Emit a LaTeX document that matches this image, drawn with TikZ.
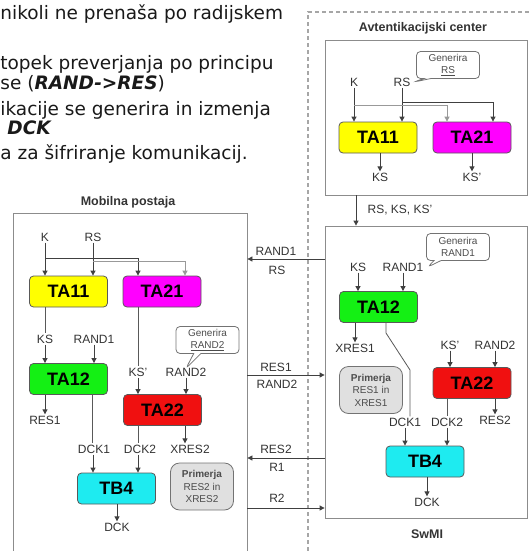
\documentclass[tikz,border=0pt]{standalone}
\usepackage{fontspec}
\setmainfont{Liberation Sans}
\newfontfamily\slidefont{DejaVu Sans}
\usetikzlibrary{arrows.meta,shapes.callouts}
\definecolor{rumena}{RGB}{255,255,0}
\definecolor{vijolicna}{RGB}{255,0,255}
\definecolor{zelena}{RGB}{20,240,20}
\definecolor{rdeca}{RGB}{240,16,16}
\definecolor{modra}{RGB}{30,235,240}

\begin{document}
\begin{tikzpicture}[x=1pt,y=-1pt,line width=0.8pt,
	blok/.style={draw=black!65,rounded corners=4pt,minimum width=78pt,minimum height=31pt,inner sep=0pt,font=\fontsize{18}{18}\selectfont\bfseries},
	oznaka/.style={inner sep=1pt,text=black!80,font=\fontsize{12}{12}\selectfont},
	okvir/.style={draw=black!45,inner sep=0pt},
	naslov/.style={text=black!80,font=\fontsize{12.5}{12.5}\selectfont\bfseries},
	puscica/.style={-{Triangle[length=5pt,width=5pt]},black!75},
	crta/.style={black!65},
	oblak/.style={rectangle callout,draw=black!55,rounded corners=4pt,minimum width=63pt,minimum height=27pt,inner sep=1pt,align=center,text=black!70,font=\fontsize{10}{11.5}\selectfont},
	primerja/.style={draw=black!55,fill=black!12,rounded corners=9pt,minimum width=63pt,minimum height=47pt,inner sep=1pt,align=center,text=black!70,font=\fontsize{10}{12.5}\selectfont},
	besedilo/.style={anchor=base west,inner sep=0pt,text=black!90,font=\slidefont\fontsize{18.5}{20}\selectfont}]
	\useasboundingbox (0,0) rectangle (532,551);
	\clip (0,0) rectangle (532,551);
	% odrezano besedilo s prosojnice
	\node[besedilo] (v1) at (0,20) {nikoli ne prenaša po radijskem};
	\node[besedilo] (v2) at (0,70) {topek preverjanja po principu};
	\node[besedilo] (v3) at (0,89.5) {se (\textbf{\textit{RAND->RES}})};
	\node[besedilo] (v4) at (0,115) {ikacije se generira in izmenja};
	\node[besedilo] (v5) at (7,134) {\textbf{\textit{DCK}}};
	\node[besedilo] (v6) at (0,159) {a za šifriranje komunikacij.};

	\draw[black!35,line width=1.6pt,dash pattern=on 4pt off 3pt] (308,551) -- (308,12) -- (532,12);

	\node[okvir,minimum width=202pt,minimum height=155pt] (avt) at (426,117.5) {};
	\node[naslov] (avtnaslov) at (423,28) {Avtentikacijski center};
	\node[okvir,minimum width=202pt,minimum height=292pt] (swmi) at (426,372) {};
	\node[naslov] (swminaslov) at (427,534) {SwMI};
	\node[okvir,minimum width=234pt,minimum height=400pt] (mob) at (130,413) {};
	\node[naslov] (mobnaslov) at (128,202) {Mobilna postaja};

	% avtentikacijski center
	\node[oznaka] (aK) at (354,82) {K};
	\node[oznaka] (aRS) at (402,82) {RS};
	\node[blok,fill=rumena] (aTA11) at (378,137.5) {TA11};
	\node[blok,fill=vijolicna] (aTA21) at (472,137.5) {TA21};
	\node[oznaka] (aKS) at (380,177) {KS};
	\node[oznaka] (aKSc) at (472,177) {KS’};
	\node[oblak,callout absolute pointer={([xshift=2pt]aRS.east)}] (aGen) at (448,65) {Generira\\\underline{RS}};
	\draw[puscica] (aK) -- (aK |- aTA11.north);
	\draw[puscica] (aRS) -- (aRS |- aTA11.north);
	\draw[puscica,black!40] (aK |- 0,105) -| ([xshift=-25pt]aTA21.north);
	\draw[puscica] (aRS |- 0,102) -| ([xshift=21pt]aTA21.north);
	\draw[puscica] (aTA11.south -| aKS) -- (aKS);
	\draw[puscica] (aTA21.south -| aKSc) -- (aKSc);
	\draw[puscica] (avt.south -| 356,0) -- (swmi.north -| 356,0);
	\node[oznaka] (aPrenos) at (400,210) {RS, KS, KS’};

	% SwMI
	\node[oznaka] (sKS) at (358,267) {KS};
	\node[oznaka] (sRAND1) at (403,267) {RAND1};
	\node[oblak,callout absolute pointer={([xshift=3pt]sRAND1.east)}] (sGen) at (458,247) {Generira\\RAND1};
	\node[blok,fill=zelena] (sTA12) at (378.5,307) {TA12};
	\node[oznaka] (sXRES1) at (355,348) {XRES1};
	\node[primerja] (sPrim) at (371,390) {\textbf{Primerja}\\RES1 in\\XRES1};
	\node[oznaka] (sKSc) at (450,345) {KS’};
	\node[oznaka] (sRAND2) at (495,345) {RAND2};
	\node[blok,fill=rdeca] (sTA22) at (472,383) {TA22};
	\node[oznaka] (sDCK1) at (405,422) {DCK1};
	\node[oznaka] (sDCK2) at (447,422) {DCK2};
	\node[oznaka] (sRES2) at (495,420) {RES2};
	\node[blok,fill=modra] (sTB4) at (425,461.5) {TB4};
	\node[oznaka] (sDCK) at (427,502) {DCK};
	\draw[puscica] (sKS) -- (sKS |- sTA12.north);
	\draw[puscica] (sRAND1) -- (sRAND1 |- sTA12.north);
	\draw[puscica] (sTA12.south -| sXRES1) -- (sXRES1);
	\draw[crta] (sTA12.south -| 386,0) -- (386,333) -- (410,370) -- (sDCK1.north -| 410,0);
	\draw[puscica] (sDCK1) -- (sDCK1 |- sTB4.north);
	\draw[puscica] (sKSc) -- (sKSc |- sTA22.north);
	\draw[puscica] (sRAND2) -- (sRAND2 |- sTA22.north);
	\draw[crta] (sTA22.south -| sDCK2) -- (sDCK2);
	\draw[puscica] (sTA22.south -| sRES2) -- (sRES2);
	\draw[puscica] (sDCK2) -- (sDCK2 |- sTB4.north);
	\draw[puscica] (sTB4.south -| sDCK) -- (sDCK);

	% mobilna postaja
	\node[oznaka] (mK) at (45,237) {K};
	\node[oznaka] (mRS) at (93,237) {RS};
	\node[blok,fill=rumena] (mTA11) at (68.5,291.5) {TA11};
	\node[blok,fill=vijolicna] (mTA21) at (162,291.5) {TA21};
	\node[oznaka] (mKS) at (45,339) {KS};
	\node[oznaka] (mRAND1) at (94,339) {RAND1};
	\node[blok,fill=zelena] (mTA12) at (68.5,379) {TA12};
	\node[oznaka] (mRES1) at (45,420) {RES1};
	\node[oznaka] (mKSc) at (138,372) {KS’};
	\node[oznaka] (mRAND2) at (186,372) {RAND2};
	\node[oblak,callout absolute pointer={([yshift=-2pt]mRAND2.north)}] (mGen) at (207.5,340) {Generira\\\underline{RAND2}};
	\node[blok,fill=rdeca] (mTA22) at (162.5,410) {TA22};
	\node[oznaka] (mDCK1) at (94,449) {DCK1};
	\node[oznaka] (mDCK2) at (140,449) {DCK2};
	\node[oznaka] (mXRES2) at (190,449) {XRES2};
	\node[blok,fill=modra] (mTB4) at (116.5,488.5) {TB4};
	\node[oznaka] (mDCK) at (117,527) {DCK};
	\node[primerja] (mPrim) at (202,486.5) {\textbf{Primerja}\\RES2 in\\XRES2};
	\draw[puscica] (mK) -- (mK |- mTA11.north);
	\draw[puscica] (mRS) -- (mRS |- mTA11.north);
	\draw[puscica] (mK |- 0,258) -| ([xshift=-24pt]mTA21.north);
	\draw[puscica,black!40] (mRS |- 0,261) -| ([xshift=23pt]mTA21.north);
	\draw[crta] (mTA11.south -| mKS) -- (mKS);
	\draw[puscica] (mKS) -- (mKS |- mTA12.north);
	\draw[puscica] (mRAND1) -- (mRAND1 |- mTA12.north);
	\draw[puscica] (mTA12.south -| mRES1) -- (mRES1);
	\draw[crta] (mTA12.south -| 92,0) -- (mDCK1.north -| 92,0);
	\draw[crta] (mTA21.south -| mKSc) -- (mKSc);
	\draw[puscica] (mKSc) -- (mKSc |- mTA22.north);
	\draw[puscica] (mRAND2) -- (mRAND2 |- mTA22.north);
	\draw[crta] (mTA22.south -| 138,0) -- (mDCK2.north -| 138,0);
	\draw[puscica] (mTA22.south -| 185,0) -- (mXRES2.north -| 185,0);
	\draw[puscica] (mDCK1.south -| 93,0) -- (mTB4.north -| 93,0);
	\draw[puscica] (mDCK2.south -| 138,0) -- (mTB4.north -| 138,0);
	\draw[puscica] (mTB4.south -| mDCK) -- (mDCK);

	% izmenjava med postajo in SwMI
	\draw[puscica] (swmi.west |- 0,259) -- (mob.east |- 0,259);
	\node[oznaka] (pRAND1) at (276,251) {RAND1};
	\node[oznaka] (pRS) at (277,270) {RS};
	\draw[puscica] (mob.east |- 0,375) -- (swmi.west |- 0,375);
	\node[oznaka] (pRES1) at (276,367) {RES1};
	\node[oznaka] (pRAND2) at (277,384) {RAND2};
	\draw[puscica] (swmi.west |- 0,458) -- (mob.east |- 0,458);
	\node[oznaka] (pRES2) at (276,449) {RES2};
	\node[oznaka] (pR1) at (277,467) {R1};
	\draw[puscica] (mob.east |- 0,508) -- (swmi.west |- 0,508);
	\node[oznaka] (pR2) at (277,498) {R2};
\end{tikzpicture}
\end{document}
